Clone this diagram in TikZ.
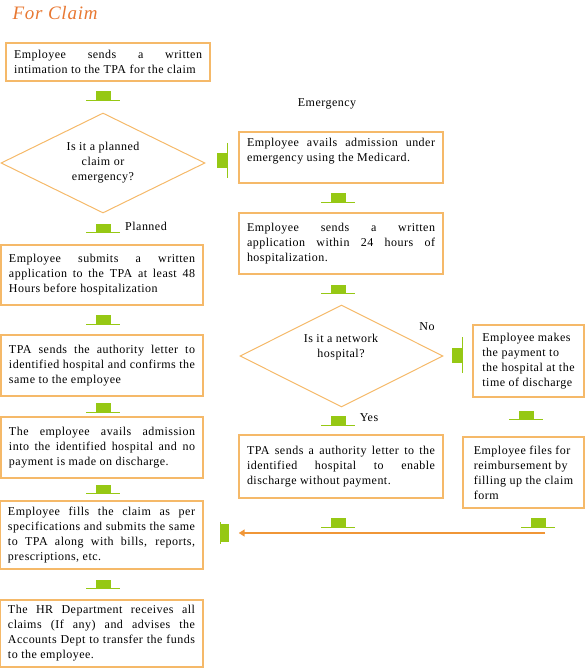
\documentclass[tikz,border=0pt]{standalone}
\usepackage{fontspec}
\setmainfont{Liberation Serif}[LetterSpace=4]
\usetikzlibrary{shapes.geometric,arrows.meta}

\definecolor{rim}  {RGB}{245,185,105}
\definecolor{leaf} {RGB}{150,200,20}
\definecolor{title}{RGB}{232,120,50}
\definecolor{flow} {RGB}{240,150,55}

\tikzset{
  box/.style={draw=rim, line width=1.1pt, align=justify, inner xsep=8pt, inner ysep=0pt,
              font=\fontsize{12}{15}\selectfont},
  ask/.style={draw=rim, line width=1pt, shape=diamond, aspect=2, inner sep=0pt, align=center,
              font=\fontsize{12}{15}\selectfont},
  tag/.style={font=\fontsize{12}{15}\selectfont},
  dmark/.style={fill=leaf, minimum width=15pt, minimum height=9pt, inner sep=0pt},
  rmark/.style={fill=leaf, minimum width=10pt, minimum height=15pt, inner sep=0pt},
}

\begin{document}
\begin{tikzpicture}[x=1pt,y=-1pt]
    \useasboundingbox (0,0) rectangle (585,668);

    \node[anchor=base west, text=title, font=\fontsize{19}{19}\selectfont\itshape] (head) at (9,20) {For Claim};

    % left column
    \node[box, minimum width=204, minimum height=38, text width=188pt] (intim) at (108,62)
        {Employee sends a written\linebreak intimation to the TPA for the claim};
    \node[ask, minimum width=204, minimum height=100] (kind) at (103,163)
        {Is it a planned\\claim or\\emergency?};
    \node[box, minimum width=202, minimum height=60, text width=186pt] (prior) at (102,275)
        {Employee submits a written\linebreak application to the TPA at least 48\linebreak Hours before hospitalization};
    \node[box, minimum width=202, minimum height=61, text width=186pt] (auth) at (102,365.5)
        {TPA sends the authority letter to\linebreak identified hospital and confirms the\linebreak same to the employee};
    \node[box, minimum width=202, minimum height=61, text width=186pt] (admit) at (102,447.5)
        {The employee avails admission\linebreak into the identified hospital and no\linebreak payment is made on discharge.};
    \node[box, minimum width=203, minimum height=68, text width=187pt] (fill) at (101.5,535)
        {Employee fills the claim as per\linebreak specifications and submits the same\linebreak to TPA along with bills, reports,\linebreak prescriptions, etc.};
    \node[box, minimum width=203, minimum height=67, text width=187pt] (hr) at (101.5,633.5)
        {The HR Department receives all\linebreak claims (If any) and advises the\linebreak Accounts Dept to transfer the funds\linebreak to the employee.};

    % emergency column
    \node[box, minimum width=204, minimum height=51, text width=188pt, text depth=30pt] (avail) at (341,157.5)
        {Employee avails admission under\linebreak emergency using the Medicard.};
    \node[box, minimum width=204, minimum height=61, text width=188pt] (late) at (341,243.5)
        {Employee sends a written\linebreak application within 24 hours of\linebreak hospitalization.};
    \node[ask, minimum width=203, minimum height=102] (net) at (341.5,356) {};
    \node[tag, align=center] (netq) at (341,347) {Is it a network\\hospital?};
    \node[box, minimum width=204, minimum height=63, text width=188pt] (nopay) at (341,466.5)
        {TPA sends a authority letter to the\linebreak identified hospital to enable\linebreak discharge without payment.};

    % non network column
    \node[box, align=left, minimum width=111, minimum height=72] (pay) at (528.5,361)
        {Employee makes\\the payment to\\the hospital at the\\time of discharge};
    \node[box, align=left, minimum width=121, minimum height=71] (refund) at (523.5,472.5)
        {Employee files for\\reimbursement by\\filling up the claim\\form};

    % labels
    \node[tag] (emer) at (327,104) {Emergency};
    \node[tag] (plan) at (146,226) {Planned};
    \node[tag] (no) at (427,327) {No};
    \node[tag] (yes) at (369,418) {Yes};

    % green marks
    \node[dmark] (m1) at (103,95.5) {};
    \node[dmark] (m2) at (103,228) {};
    \node[dmark] (m3) at (103,319.5) {};
    \node[dmark] (m4) at (103,407.5) {};
    \node[dmark] (m5) at (103,489) {};
    \node[dmark] (m6) at (103,584) {};
    \node[dmark] (m7) at (338,197.5) {};
    \node[dmark] (m8) at (338,289) {};
    \node[dmark] (m9) at (338,420.5) {};
    \node[dmark] (m10) at (526,415) {};
    \node[dmark] (m11) at (338,522.5) {};
    \node[dmark] (m12) at (538,522.5) {};
    \node[rmark] (r1) at (222,160.5) {};
    \node[rmark] (r2) at (457,355) {};
    \node[rmark, minimum width=8pt, minimum height=18pt] (back) at (224.5,533) {};

    \foreach \m in {m1,m2,m3,m4,m5,m6,m7,m8,m9,m10,m11,m12}
        \draw[leaf, line width=1pt] ([xshift=-9pt]\m.south west) -- ([xshift=9pt]\m.south east);
    \foreach \m in {r1,r2}
        \draw[leaf, line width=1pt] ([yshift=10pt]\m.north east) -- ([yshift=-10pt]\m.south east);
    \draw[leaf, line width=1pt] ([yshift=2pt]back.north west) -- ([yshift=-2pt]back.south west);

    % back to the claim
    \coordinate (tail) at (545,533);
    \draw[flow, line width=1.6pt, -{Triangle[length=6pt,width=7pt]}] (tail) -- ([xshift=10pt]back.east);

  \end{tikzpicture}
\end{document}
